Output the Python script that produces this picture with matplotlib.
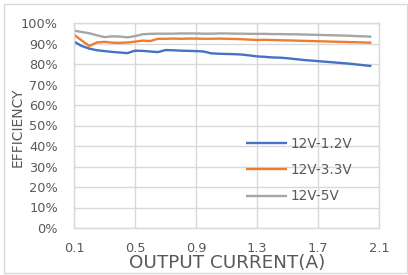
#!/usr/bin/env python3

import matplotlib
matplotlib.use("Agg")
import matplotlib.pyplot as plt
from matplotlib.patches import Rectangle
from matplotlib import ticker

plt.rcParams["font.family"] = "DejaVu Sans"

# Output current (A)
current = [0.10, 0.15, 0.20, 0.25, 0.30, 0.35, 0.40, 0.45, 0.50, 0.55,
           0.60, 0.65, 0.70, 0.75, 0.80, 0.85, 0.90, 0.95, 1.00, 1.05,
           1.10, 1.15, 1.20, 1.25, 1.30, 1.35, 1.40, 1.45, 1.50, 1.55,
           1.60, 1.65, 1.70, 1.75, 1.80, 1.85, 1.90, 1.95, 2.00, 2.05]

# Efficiency (%)
eff_1v2 = [90.9, 88.8, 87.5, 86.7, 86.3, 85.9, 85.6, 85.3, 86.5, 86.4,
           86.1, 85.8, 86.8, 86.7, 86.5, 86.4, 86.3, 86.1, 85.2, 85.0,
           84.9, 84.8, 84.6, 84.2, 83.7, 83.5, 83.2, 83.1, 82.8, 82.4,
           82.0, 81.7, 81.4, 81.1, 80.8, 80.5, 80.2, 79.8, 79.4, 79.0]
eff_3v3 = [94.3, 91.5, 88.8, 90.5, 90.8, 90.4, 90.3, 90.5, 90.9, 91.4,
           91.2, 92.3, 92.3, 92.4, 92.3, 92.4, 92.4, 92.3, 92.3, 92.4,
           92.3, 92.2, 92.1, 91.9, 91.7, 91.8, 91.7, 91.6, 91.5, 91.4,
           91.3, 91.2, 91.1, 91.0, 90.9, 90.8, 90.7, 90.6, 90.5, 90.4]
eff_5v = [96.3, 95.6, 95.0, 94.0, 93.1, 93.5, 93.4, 93.0, 93.6, 94.5,
          94.7, 94.8, 94.8, 94.8, 94.9, 94.9, 94.9, 94.8, 94.8, 94.9,
          94.9, 94.8, 94.8, 94.7, 94.7, 94.7, 94.6, 94.6, 94.5, 94.5,
          94.4, 94.3, 94.2, 94.1, 94.0, 93.9, 93.8, 93.6, 93.5, 93.3]

labels = ["12V-1.2V", "12V-3.3V", "12V-5V"]
colors = ["#4472C4", "#ED7D31", "#A5A5A5"]

xticks = [0.1, 0.5, 0.9, 1.3, 1.7, 2.1]
text_color = "#595959"
grid_color = "#D9D9D9"

W, H = 408, 275
fig = plt.figure(figsize=(W / 100, H / 100), dpi=100)

# outer chart border
fig.patches.append(Rectangle((4 / W, 2 / H), 403 / W, 269 / H,
                             transform=fig.transFigure, fill=False,
                             edgecolor=grid_color, linewidth=1.0))

ax = fig.add_axes([74 / W, 1 - 228 / H, 305 / W, 205 / H])

for y, lab, c in zip([eff_1v2, eff_3v3, eff_5v], labels, colors):
    ax.plot(current, y, color=c, linewidth=1.7, label=lab, solid_capstyle="butt")

ax.set_xlim(0.1, 2.1)
ax.set_ylim(0, 100)
ax.set_xticks(xticks)
ax.set_xticklabels([str(v) for v in xticks])
ax.set_yticks(range(0, 101, 10))
ax.yaxis.set_major_formatter(ticker.FuncFormatter(lambda v, p: "{:d}%".format(int(v))))
ax.tick_params(length=0, labelsize=9.3, colors=text_color)
ax.tick_params(axis="y", pad=11.5)
ax.tick_params(axis="x", pad=10)

ax.grid(True, color=grid_color, linewidth=1.0)
ax.set_axisbelow(True)
for s in ax.spines.values():
    s.set_color(grid_color)
    s.set_linewidth(1.0)

fig.text(227 / W, 1 - 263 / H, "OUTPUT CURRENT(A)", ha="center", va="center",
         fontsize=13.2, color=text_color)
fig.text(18 / W, 1 - 127 / H, "EFFICIENCY", ha="center", va="center",
         rotation=90, fontsize=10, color=text_color)

ax.legend(loc="upper left", bbox_to_anchor=((246 - 74) / 305, (228 - 137) / 205),
          frameon=False, fontsize=9.8, labelcolor=text_color,
          handlelength=3.0, handletextpad=0.3, labelspacing=0.9,
          borderaxespad=0, borderpad=0)

fig.savefig("out.png", dpi=100)
plt.close()
